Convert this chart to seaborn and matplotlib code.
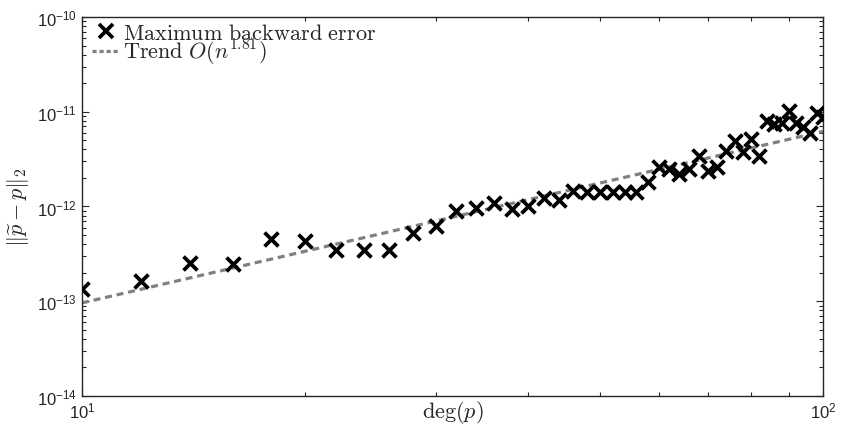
import numpy as np
import pandas as pd
import matplotlib
matplotlib.use("Agg")
import matplotlib.pyplot as plt
import seaborn as sns
from matplotlib.ticker import LogLocator, NullFormatter
from matplotlib.lines import Line2D

# polynomial degrees (even numbers 10..100)
degrees = [10, 12, 14, 16, 18, 20, 22, 24, 26, 28, 30, 32, 34, 36, 38, 40,
           42, 44, 46, 48, 50, 52, 54, 56, 58, 60, 62, 64, 66, 68, 70, 72,
           74, 76, 78, 80, 82, 84, 86, 88, 90, 92, 94, 96, 98, 100]
# maximum backward error
max_err = [1.34e-13, 1.63e-13, 2.52e-13, 2.45e-13, 4.5e-13, 4.3e-13, 3.5e-13,
           3.5e-13, 3.5e-13, 5.2e-13, 6.2e-13, 8.9e-13, 9.6e-13, 1.08e-12,
           9.5e-13, 1.02e-12, 1.22e-12, 1.18e-12, 1.47e-12, 1.42e-12, 1.42e-12,
           1.42e-12, 1.42e-12, 1.42e-12, 1.8e-12, 2.6e-12, 2.5e-12, 2.2e-12,
           2.47e-12, 3.39e-12, 2.35e-12, 2.6e-12, 3.83e-12, 4.88e-12, 3.74e-12,
           5.1e-12, 3.39e-12, 7.9e-12, 7.4e-12, 7.6e-12, 1.01e-11, 7.6e-12,
           6.9e-12, 6.0e-12, 9.6e-12, 8.9e-12]
# fitted trend O(n^1.81), end points
trend_x = [10, 100]
trend_y = [9.6e-14, 6.2e-12]

df = pd.DataFrame({"deg": degrees, "err": max_err})
trend = pd.DataFrame({"deg": trend_x, "err": trend_y})

sns.set_style("ticks")
plt.rcParams["mathtext.fontset"] = "custom"
plt.rcParams["mathtext.rm"] = "Liberation Sans"
plt.rcParams["mathtext.it"] = "Liberation Sans:italic"
plt.rcParams["mathtext.bf"] = "Liberation Sans:bold"
plt.rcParams["font.family"] = ["Liberation Sans", "DejaVu Sans"]

fig = plt.figure(figsize=(8.41, 4.35), dpi=100)
ax = fig.add_axes([0.0975, 0.0874, 0.8811, 0.8712])

sns.lineplot(data=trend, x="deg", y="err", ax=ax, color="#808080",
             linewidth=2.3, dashes=False, zorder=1)
ax.lines[0].set_dashes((2.2, 1.5))
sns.scatterplot(data=df, x="deg", y="err", ax=ax, marker="x", color="black",
                s=100, linewidth=2.7, zorder=3)

ax.set_xscale("log")
ax.set_yscale("log")
ax.set_xlim(10, 100)
ax.set_ylim(1e-14, 1e-10)

ax.yaxis.set_major_locator(LogLocator(base=10, numticks=10))
ax.yaxis.set_minor_locator(LogLocator(base=10, subs=np.arange(2, 10), numticks=20))
ax.yaxis.set_minor_formatter(NullFormatter())
ax.xaxis.set_minor_formatter(NullFormatter())
ax.tick_params(which="both", direction="in", top=True, right=True,
               labelsize=12, width=0.8)
ax.tick_params(which="major", length=5)
ax.tick_params(which="minor", length=3)
for s in ax.spines.values():
    s.set_linewidth(1.0)

ax.set_xlabel(r"$\deg(p)$", fontsize=16, math_fontfamily="cm")
ax.xaxis.set_label_coords(0.5, -0.04)
ax.xaxis.label.set_va("center")
ax.set_ylabel(r"$\|\widetilde{p}-p\|_2$", fontsize=16, math_fontfamily="cm")
ax.yaxis.set_label_coords(-0.087, 0.5)
ax.yaxis.label.set_va("center")

h1 = Line2D([], [], marker="x", color="black", linestyle="none",
            markersize=9.5, markeredgewidth=2.7)
h2 = Line2D([], [], color="#808080", linewidth=2.3, dashes=(1.3, 0.9))
leg = ax.legend([h1, h2],
                [r"$\mathrm{Maximum\ backward\ error}$",
                 r"$\mathrm{Trend}\ O(n^{1.81})$"],
                loc="upper left", bbox_to_anchor=(0.0105, 0.99),
                frameon=False, handlelength=1.25, handletextpad=0.15,
                borderaxespad=0.0, borderpad=0.1, labelspacing=-0.3,
                prop={"size": 16, "math_fontfamily": "cm"})

fig.savefig("out.png", dpi=100)
